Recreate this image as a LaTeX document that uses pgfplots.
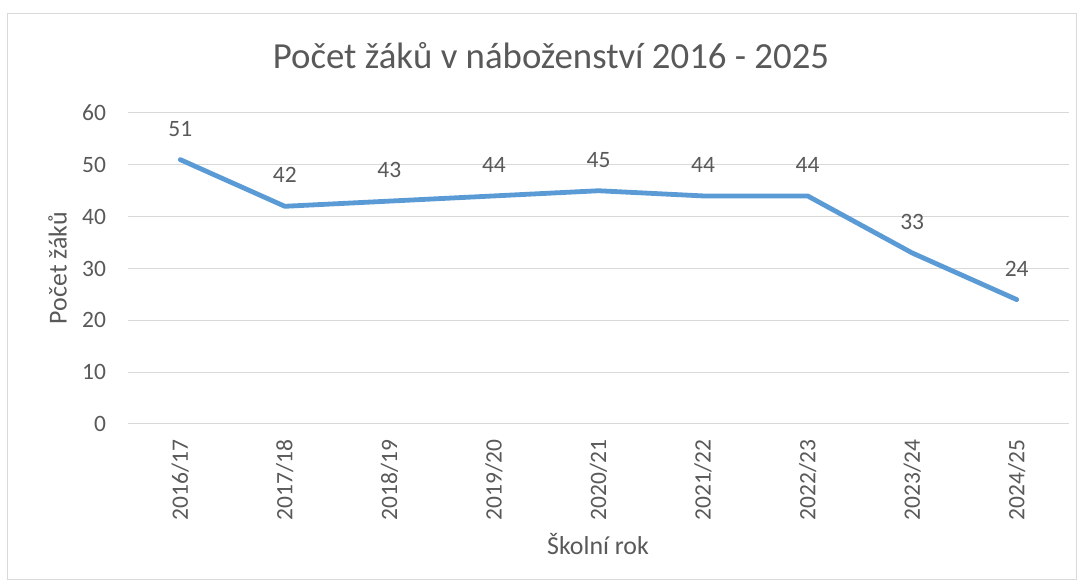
\documentclass[border=0pt]{standalone}
\usepackage{pgfplots}
\pgfplotsset{compat=1.18}
\usepackage{fontspec}
\setmainfont{Carlito}
\definecolor{txt}{HTML}{595959}
\definecolor{gridc}{HTML}{D9D9D9}
\definecolor{line}{HTML}{5B9BD5}
\begin{document}
\begin{tikzpicture}
\path[fill=white, use as bounding box] (0pt,0pt) rectangle (812.25pt,441pt);
\draw[gridc, line width=0.75pt] (5.25pt,6pt) rectangle (807pt,430.5pt);
\begin{axis}[
  at={(96pt,123pt)}, anchor=south west,
  scale only axis, width=705.75pt, height=233.25pt,
  xmin=-0.5, xmax=8.5, ymin=0, ymax=60,
  xtick={0,...,8},
  xticklabels={2016/17,2017/18,2018/19,2019/20,2020/21,2021/22,2022/23,2023/24,2024/25},
  ytick={0,10,...,60},
  axis line style={draw=none},
  major tick length=0pt,
  ymajorgrids, grid style={gridc, line width=0.75pt},
  /pgf/number format/assume math mode=true,
  tick label style={font=\fontsize{17.6}{20}\selectfont, text=txt},
  yticklabel style={anchor=east, inner sep=0pt, outer xsep=16.5pt},
  xticklabel style={rotate=90, anchor=east, inner sep=0pt, outer xsep=12pt},
  every axis title/.style={at={(axis description cs:0.4495,1.1415)}, anchor=base, inner sep=0pt, font=\fontsize{27.6}{30}\selectfont, text=txt},
  title={Počet žáků v náboženství 2016 - 2025},
  xlabel={Školní rok},
  xlabel style={at={(axis description cs:0.4995,-0.4212)}, anchor=base, inner sep=0pt, font=\fontsize{19.4}{22}\selectfont, text=txt},
  ylabel={Počet žáků},
  ylabel style={at={(axis description cs:-0.0749,0.5016)}, anchor=center, rotate=0, font=\fontsize{19.4}{22}\selectfont, text=txt},
  nodes near coords,
  nodes near coords style={anchor=center, yshift=23.25pt, font=\fontsize{17.6}{20}\selectfont, text=txt},
]
\addplot[line, line width=3.6pt, line cap=round, line join=round, mark=none] coordinates {
(0,51) (1,42) (2,43) (3,44) (4,45) (5,44) (6,44) (7,33) (8,24)
};
\end{axis}
\end{tikzpicture}
\end{document}
